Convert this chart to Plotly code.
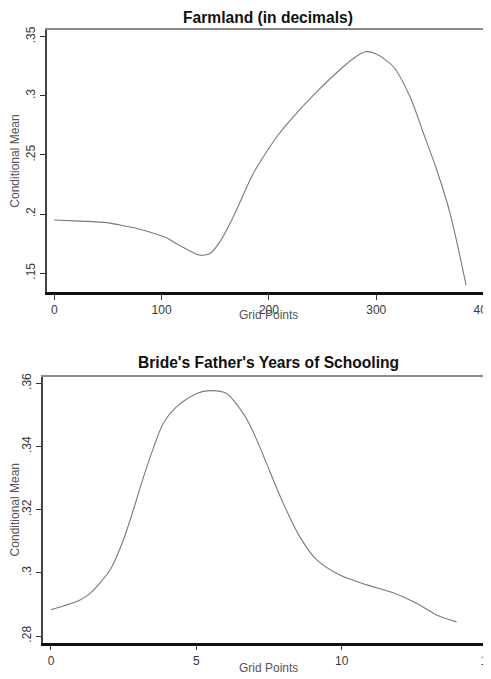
import plotly.graph_objects as go

# Top panel: Farmland (in decimals)
farm_x = [0, 24, 48.8, 61.2, 73.6, 92.3, 103, 114.1, 126, 135.8, 145.1, 154.4, 166.8, 185.5, 200,
          207.3, 220, 244.7, 269.3, 280, 289.6, 300, 316, 331.5, 344, 356.4, 368.8, 383.7]
farm_y = [0.1949, 0.1940, 0.1927, 0.1907, 0.1885, 0.1837, 0.1805, 0.1748, 0.1690, 0.1652, 0.1665,
          0.1766, 0.1977, 0.2344, 0.2556, 0.2654, 0.2795, 0.3035, 0.3246, 0.3325, 0.3373, 0.3354,
          0.3246, 0.2992, 0.2683, 0.2372, 0.2006, 0.1399]

# Bottom panel: Bride's Father's Years of Schooling
school_x = [0, 1.0, 1.34, 2.03, 2.49, 2.83, 3.17, 3.52, 3.86, 4.32, 5.01, 5.47, 6.04, 6.61, 6.84,
            7.13, 7.42, 7.99, 8.56, 9.14, 9.94, 10.86, 11.77, 12.57, 13.26, 13.95]
school_y = [0.2883, 0.2914, 0.2935, 0.3009, 0.3104, 0.3199, 0.3300, 0.3395, 0.3473, 0.3526, 0.3568,
            0.3577, 0.3568, 0.3505, 0.3468, 0.3410, 0.3345, 0.3220, 0.3114, 0.3041, 0.2993, 0.2962,
            0.2937, 0.2904, 0.2867, 0.2845]

farm_xticks = [0, 100, 200, 300, 400]
farm_xtext = ["0", "100", "200", "300", "400"]
farm_yticks = [0.15, 0.2, 0.25, 0.3, 0.35]
farm_ytext = [".15", ".2", ".25", ".3", ".35"]

school_xticks = [0, 5, 10, 15]
school_xtext = ["0", "5", "10", "15"]
school_yticks = [0.28, 0.30, 0.32, 0.34, 0.36]
school_ytext = [".28", ".3", ".32", ".34", ".36"]

titles = ["Farmland (in decimals)", "Bride's Father's Years of Schooling"]
x_title = "Grid Points"
y_title = "Conditional Mean"

FONT = "Liberation Sans, Arial, sans-serif"
LINE = "#7a7a7a"
W, H = 491, 679
OFF = 8  # page body margin offset


def px(x):
    return (x - OFF) / W


def py(y):
    return (H - (y - OFF)) / H


fig = go.Figure()
fig.add_trace(go.Scatter(x=farm_x, y=farm_y, mode="lines",
                         line=dict(color=LINE, width=1.1, shape="spline", smoothing=0.8),
                         xaxis="x", yaxis="y", showlegend=False, hoverinfo="skip"))
fig.add_trace(go.Scatter(x=school_x, y=school_y, mode="lines",
                         line=dict(color=LINE, width=1.1, shape="spline", smoothing=0.8),
                         xaxis="x2", yaxis="y2", showlegend=False, hoverinfo="skip"))

tickfont = dict(family=FONT, size=12, color="#3a3a3a")
titlefont = dict(family=FONT, size=12, color="#555555")


def xax(dom, rng, tv, tt, anchor):
    return dict(domain=dom, range=rng, tickvals=tv, ticktext=tt, anchor=anchor, automargin=False,
                showgrid=False, zeroline=False, showline=True, linecolor="#111111", linewidth=2.5,
                ticks="outside", ticklen=5, tickcolor="#333333", tickwidth=1, tickfont=tickfont)


def yax(dom, rng, tv, tt, anchor):
    return dict(domain=dom, range=rng, tickvals=tv, ticktext=tt, anchor=anchor, automargin=False,
                showgrid=False, zeroline=False, showline=True, linecolor="#444444", linewidth=2,
                ticks="outside", ticklen=5, tickcolor="#333333", tickwidth=1, tickangle=-90,
                tickfont=tickfont, title=dict(text=y_title, font=titlefont, standoff=2))


def top_axis(over, anchor, rng):
    return dict(overlaying=over, side="top", anchor=anchor, range=rng, showline=True,
                linecolor="#8a8a8a", linewidth=1.5, showticklabels=False, ticks="", showgrid=False,
                zeroline=False, automargin=False)


top_xr = [-6.8, 414.4]
bot_xr = [-0.275, 15.41]

fig.update_layout(
    width=W, height=H, margin=dict(l=0, r=0, t=0, b=0, pad=0, autoexpand=False),
    paper_bgcolor="white", plot_bgcolor="white",
    xaxis=xax([px(47), 1], top_xr, farm_xticks, farm_xtext, "y"),
    yaxis=yax([py(292), py(30)], [0.134, 0.3557], farm_yticks, farm_ytext, "x"),
    xaxis2=xax([px(43), 1], bot_xr, school_xticks, school_xtext, "y2"),
    yaxis2=yax([py(642.7), py(376.7)], [0.2779, 0.3621], school_yticks, school_ytext, "x2"),
    xaxis3=top_axis("x", "y", top_xr),
    xaxis4=top_axis("x2", "y2", bot_xr),
    annotations=[
        dict(text="<b>" + titles[0] + "</b>", x=px(268), y=py(18), xref="paper", yref="paper",
             showarrow=False, font=dict(family=FONT, size=15.6, color="#111111"),
             xanchor="center", yanchor="middle"),
        dict(text="<b>" + titles[1] + "</b>", x=px(268), y=py(363), xref="paper", yref="paper",
             showarrow=False, font=dict(family=FONT, size=15.6, color="#111111"),
             xanchor="center", yanchor="middle"),
        dict(text=x_title, x=px(268), y=py(315.5), xref="paper", yref="paper", showarrow=False,
             font=titlefont, xanchor="center", yanchor="middle"),
        dict(text=x_title, x=px(268), y=py(668), xref="paper", yref="paper", showarrow=False,
             font=titlefont, xanchor="center", yanchor="middle"),
    ],
)

fig.add_trace(go.Scatter(x=[None], y=[None], xaxis="x3", yaxis="y", showlegend=False, hoverinfo="skip"))
fig.add_trace(go.Scatter(x=[None], y=[None], xaxis="x4", yaxis="y2", showlegend=False, hoverinfo="skip"))

fig.write_html("out.html")
